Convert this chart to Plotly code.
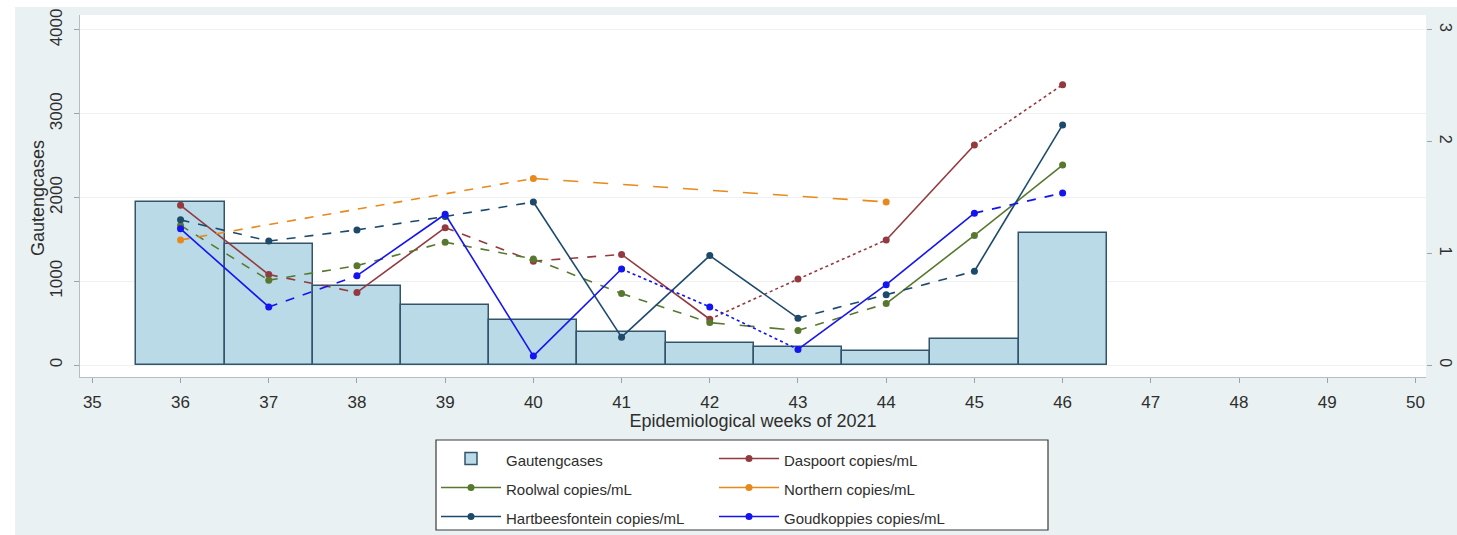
import plotly.graph_objects as go

# Epidemiological weeks
weeks = [36, 37, 38, 39, 40, 41, 42, 43, 44, 45, 46]

# Weekly Gauteng case counts (left axis)
gauteng_cases = [1950, 1440, 940, 715, 540, 395, 260, 220, 170, 310, 1580]

# Wastewater SARS-CoV-2 copies/mL per treatment works (right axis)
daspoort = [1.43, 0.81, 0.65, 1.23, 0.93, 0.99, 0.41, 0.77, 1.12, 1.97, 2.51]
roolwal = [1.25, 0.76, 0.89, 1.10, 0.95, 0.64, 0.38, 0.31, 0.55, 1.16, 1.79]
hartbeesfontein = [1.30, 1.11, 1.21, 1.33, 1.46, 0.25, 0.98, 0.42, 0.63, 0.84, 2.15]
goudkoppies = [1.22, 0.52, 0.80, 1.35, 0.08, 0.86, 0.52, 0.14, 0.72, 1.36, 1.54]
northern_weeks = [36, 40, 44]
northern = [1.12, 1.67, 1.46]

x_ticks = list(range(35, 51))
left_ticks = [0, 1000, 2000, 3000, 4000]
right_ticks = [0, 1, 2, 3]

# name, x, y, colour, line pattern per segment, legend column, row
series = [
    ("Daspoort copies/mL", weeks, daspoort, "#923a40",
     ["solid", "dash", "solid", "dash", "dash", "solid", "dot", "dot", "solid", "dot"],
     "legend2", 1),
    ("Roolwal copies/mL", weeks, roolwal, "#58782f",
     ["dash", "dash", "dash", "dash", "dash", "dash", "longdash", "dash", "solid", "solid"],
     "legend", 2),
    ("Northern copies/mL", northern_weeks, northern, "#e8891c",
     ["dash", "longdash"],
     "legend2", 2),
    ("Hartbeesfontein copies/mL", weeks, hartbeesfontein, "#1d4a6b",
     ["dash", "dash", "dash", "dash", "solid", "solid", "solid", "dash", "dash", "solid"],
     "legend", 3),
    ("Goudkoppies copies/mL", weeks, goudkoppies, "#1414f0",
     ["solid", "dash", "solid", "solid", "solid", "dot", "dot", "solid", "solid", "dash"],
     "legend2", 3),
]


def legend_label(text):
    # smaller label text inside a taller legend row
    return f"<span style='font-size:15px'>{text}</span>"


fig = go.Figure()

fig.add_trace(go.Bar(
    x=weeks, y=gauteng_cases, width=1.0, name=legend_label("Gautengcases"),
    marker=dict(color="#b9dae6", line=dict(color="#33546b", width=1.5)),
    yaxis="y", legend="legend", legendrank=1,
))

for name, xs, ys, color, dashes, legend_id, row in series:
    for i, dash in enumerate(dashes):
        fig.add_trace(go.Scatter(
            x=xs[i:i + 2], y=ys[i:i + 2], mode="lines",
            line=dict(color=color, width=1.6, dash=dash),
            yaxis="y2", showlegend=False, hoverinfo="skip",
        ))
    fig.add_trace(go.Scatter(
        x=xs, y=ys, mode="markers", name=name,
        marker=dict(color=color, size=7),
        yaxis="y2", showlegend=False,
    ))
    # legend entry showing line and marker together
    fig.add_trace(go.Scatter(
        x=[None], y=[None], mode="lines+markers", name=legend_label(name),
        line=dict(color=color, width=1.4), marker=dict(color=color, size=7),
        yaxis="y2", legend=legend_id, legendrank=row,
    ))

plot_l, plot_r, plot_t, plot_b = 80, 1426, 15, 377
W, H = 1457, 535
pw, ph = plot_r - plot_l, plot_b - plot_t


def px_x(x):
    return (x - plot_l) / pw


def px_y(y):
    return (plot_b - y) / ph


legend_style = dict(
    orientation="v", yanchor="top", xanchor="left",
    bgcolor="rgba(0,0,0,0)", borderwidth=0, itemwidth=60,
    font=dict(size=20, color="#2e2e2e"),
)
text_color = "#2e2e2e"

fig.update_layout(
    width=W, height=H,
    margin=dict(l=plot_l, r=W - plot_r, t=plot_t, b=H - plot_b, autoexpand=False),
    paper_bgcolor="#eaf1f3",
    plot_bgcolor="white",
    font=dict(family="Liberation Sans, Arial, sans-serif", size=17, color=text_color),
    barmode="overlay",
    bargap=0,
    xaxis=dict(
        range=[34.86, 50.12], tickvals=x_ticks, ticks="outside", ticklen=5,
        tickcolor="#9aa4aa", showline=True, linecolor="#b7bec2", linewidth=1.2,
        showgrid=False, zeroline=False, ticklabelstandoff=4, automargin=False,
        tickfont=dict(size=17),
        title=dict(text="Epidemiological weeks of 2021", standoff=0,
                   font=dict(size=18, color=text_color)),
    ),
    yaxis=dict(
        range=[-143, 4179], tickvals=left_ticks, ticks="outside", ticklen=5,
        tickcolor="#9aa4aa", showline=True, linecolor="#b7bec2", linewidth=1.2,
        showgrid=True, gridcolor="#eef1f2", gridwidth=1.2, zeroline=False,
        tickangle=-90, ticklabelstandoff=5, automargin=False,
        tickfont=dict(size=17),
    ),
    yaxis2=dict(
        range=[-0.107, 3.134], tickvals=right_ticks, overlaying="y", side="right",
        ticks="outside", ticklen=5, tickcolor="#9aa4aa", showline=False,
        showgrid=False, zeroline=False, tickangle=90, ticklabelstandoff=2,
        automargin=False, tickfont=dict(size=16),
    ),
    legend=dict(x=px_x(436), y=px_y(439), **legend_style),
    legend2=dict(x=px_x(714), y=px_y(439), **legend_style),
    annotations=[
        # left axis title
        dict(text="Gautengcases", xref="paper", yref="paper",
             x=px_x(38), y=px_y(198), textangle=-90, showarrow=False,
             xanchor="center", yanchor="middle", font=dict(size=18, color=text_color)),
    ],
    shapes=[
        dict(type="rect", xref="paper", yref="paper", x0=px_x(0), x1=px_x(15),
             y0=px_y(H), y1=px_y(0), fillcolor="white", line=dict(width=0), layer="below"),
        dict(type="rect", xref="paper", yref="paper", x0=px_x(0), x1=px_x(W),
             y0=px_y(7), y1=px_y(0), fillcolor="white", line=dict(width=0), layer="below"),
        # legend frame
        dict(type="rect", xref="paper", yref="paper", x0=px_x(436), x1=px_x(1048),
             y0=px_y(530), y1=px_y(440), fillcolor="white",
             line=dict(color="#3a3a3a", width=1.2), layer="below"),
    ],
)

fig.write_html("out.html")
